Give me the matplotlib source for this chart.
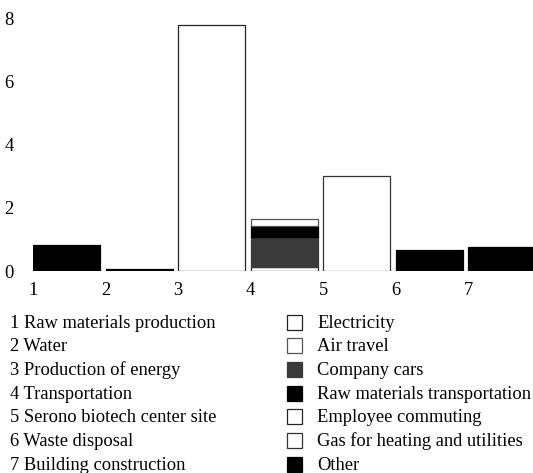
import matplotlib.pyplot as plt
import numpy as np
from matplotlib.patches import Rectangle

plt.rcParams['font.family'] = ['Liberation Serif', 'DejaVu Serif']
plt.rcParams['hatch.color'] = '#b0b0b0'
plt.rcParams['hatch.linewidth'] = 0.8

# categories (x = 1..7)
positions = np.arange(1, 8)
category_names = ["Raw materials production", "Water", "Production of energy",
                  "Transportation", "Serono biotech center site",
                  "Waste disposal", "Building construction"]

# emission sources, one value per category
electricity = [0, 0, 7.78, 0, 0, 0, 0]
air_travel = [0, 0, 0, 0.23, 0, 0, 0]
company_cars = [0, 0, 0, 0.95, 0, 0, 0]
raw_transport = [0, 0, 0, 0.35, 0, 0, 0]
commuting = [0, 0, 0, 0.13, 0, 0, 0]
gas_heating = [0, 0, 0, 0, 3.02, 0, 0]
other = [0.82, 0.06, 0, 0, 0, 0.66, 0.75]

legend_names = ["Electricity", "Air travel", "Company cars",
                "Raw materials transportation", "Employee commuting",
                "Gas for heating and utilities", "Other"]
legend_styles = [("white", "#222222"), ("white", "#555555"), ("#3a3a3a", "#3a3a3a"),
                 ("black", "black"), ("white", "#222222"), ("white", "#333333"),
                 ("black", "black")]

# stacking order (bottom -> top) for the bars
stack = [(electricity, 0), (commuting, 4), (company_cars, 2), (raw_transport, 3),
         (air_travel, 1), (gas_heating, 5), (other, 6)]

W, H = 533, 473
fig = plt.figure(figsize=(W / 100, H / 100), dpi=100)
unit_y = 31.6
ax = fig.add_axes([33 / W, 202 / H, 500 / W, 8.25 * unit_y / H])

bottom = np.zeros(len(positions))
for vals, idx in stack:
    vals = np.array(vals, dtype=float)
    m = vals > 0
    fc, ec = legend_styles[idx]
    ax.bar(positions[m], vals[m], width=0.93, bottom=bottom[m], align='edge',
           facecolor=fc, edgecolor=ec, linewidth=0.9,
           hatch='.....' if idx == 2 else None)
    bottom += vals

ax.set_xlim(1, 1 + 500 / 72.5)
ax.set_ylim(0, 8.25)
ax.set_xticks(positions)
ax.set_yticks([0, 2, 4, 6, 8])
ax.tick_params(length=0, labelsize=13.3)
ax.tick_params(axis='y', pad=14)
ax.tick_params(axis='x', pad=8)
for s in ax.spines.values():
    s.set_visible(False)

# category list and source legend below the chart
row0, step = 323, 23.7
for i, name in enumerate(category_names):
    y = 1 - (row0 + i * step) / H
    fig.text(10 / W, y, f"{positions[i]} {name}", fontsize=13.3, va='center', ha='left')
for i, name in enumerate(legend_names):
    yc = row0 + i * step - 1
    fc, ec = legend_styles[i]
    fig.add_artist(Rectangle((287 / W, 1 - (yc + 7.5) / H), 15 / W, 15 / H,
                             transform=fig.transFigure, facecolor=fc, edgecolor=ec,
                             linewidth=0.9, hatch='.....' if i == 2 else None))
    fig.text(317 / W, 1 - (row0 + i * step) / H, name, fontsize=13.3, va='center', ha='left')

plt.savefig("out.png", dpi=100)
